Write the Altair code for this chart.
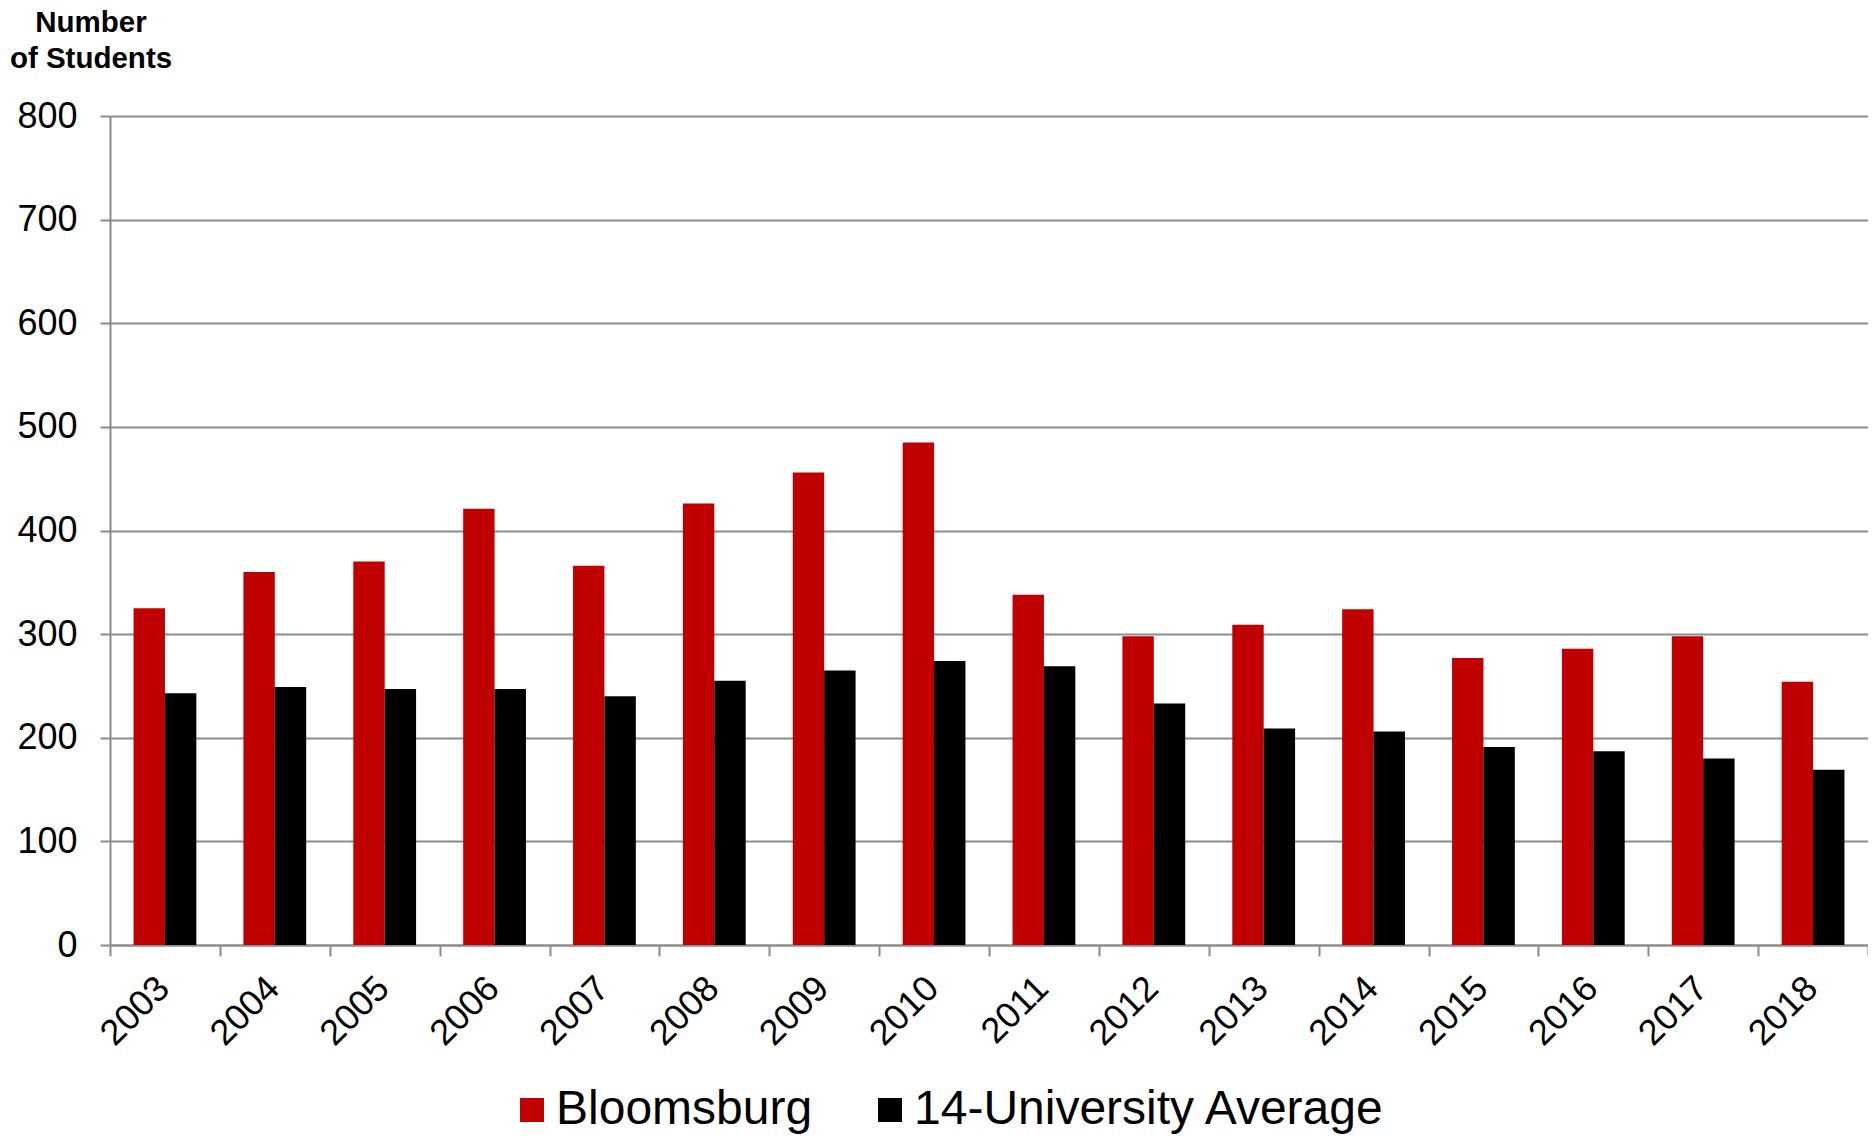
import altair as alt
import pandas as pd

years = [str(y) for y in range(2003, 2019)]
series = ["Bloomsburg", "14-University Average"]
bloomsburg = [325, 360, 370, 421, 366, 426, 456, 485, 338, 298, 309, 324, 277, 286, 298, 254]
average = [243, 249, 247, 247, 240, 255, 265, 274, 269, 233, 209, 206, 191, 187, 180, 169]
y_ticks = [0, 100, 200, 300, 400, 500, 600, 700, 800]
colors = ["#C00000", "#000000"]

df = pd.DataFrame({
    "Year": years + years,
    "Series": [series[0]] * len(years) + [series[1]] * len(years),
    "Value": bloomsburg + average,
})

FONT = "Liberation Sans"
GRAY = "#8c8c8c"

chart = alt.Chart(df).mark_bar().encode(
    x=alt.X(
        "Year:N",
        sort=years,
        scale=alt.Scale(paddingInner=0, paddingOuter=0),
        axis=alt.Axis(
            title=None,
            labelAngle=-45,
            labelAlign="right",
            labelBaseline="alphabetic",
            labelFontSize=36,
            labelFont=FONT,
            labelColor="#000000",
            labelPadding=34,
            labelOffset=6,
            labelOverlap=False,
            tickBand="extent",
            tickSize=11,
            tickColor=GRAY,
            tickWidth=2,
            domainColor=GRAY,
            domainWidth=2,
            grid=False,
        ),
    ),
    xOffset=alt.XOffset(
        "Series:N",
        sort=series,
        scale=alt.Scale(paddingInner=0, paddingOuter=0.75),
    ),
    y=alt.Y(
        "Value:Q",
        scale=alt.Scale(domain=[0, 800], nice=False),
        axis=alt.Axis(
            values=y_ticks,
            title=["Number", "of Students"],
            titleAngle=0,
            titleX=-19.5,
            titleY=-85,
            titleAlign="center",
            titleBaseline="alphabetic",
            titleFont=FONT,
            titleFontSize=29.5,
            titleFontWeight="bold",
            titleLineHeight=36,
            titleColor="#000000",
            labelFont=FONT,
            labelFontSize=36,
            labelColor="#000000",
            labelPadding=23,
            tickSize=10,
            tickColor=GRAY,
            tickWidth=2,
            domainColor=GRAY,
            domainWidth=2,
            gridColor=GRAY,
            gridWidth=2,
        ),
    ),
    color=alt.Color(
        "Series:N",
        sort=series,
        scale=alt.Scale(domain=series, range=colors),
        legend=alt.Legend(
            title=None,
            orient="none",
            direction="horizontal",
            legendX=398,
            legendY=970,
            padding=0,
            symbolType="square",
            symbolSize=576,
            symbolStrokeWidth=0,
            symbolOpacity=1,
            labelFont=FONT,
            labelFontSize=48,
            labelColor="#000000",
            labelOffset=0,
            columnPadding=53,
            labelLimit=1000,
        ),
    ),
).properties(
    width=1758,
    height=829,
    autosize=alt.AutoSizeParams(type="none"),
    padding={"left": 102, "top": 108, "right": 0, "bottom": 189},
).configure_view(stroke=None)

chart.save("out.html", embed_options={"renderer": "svg", "actions": False})
